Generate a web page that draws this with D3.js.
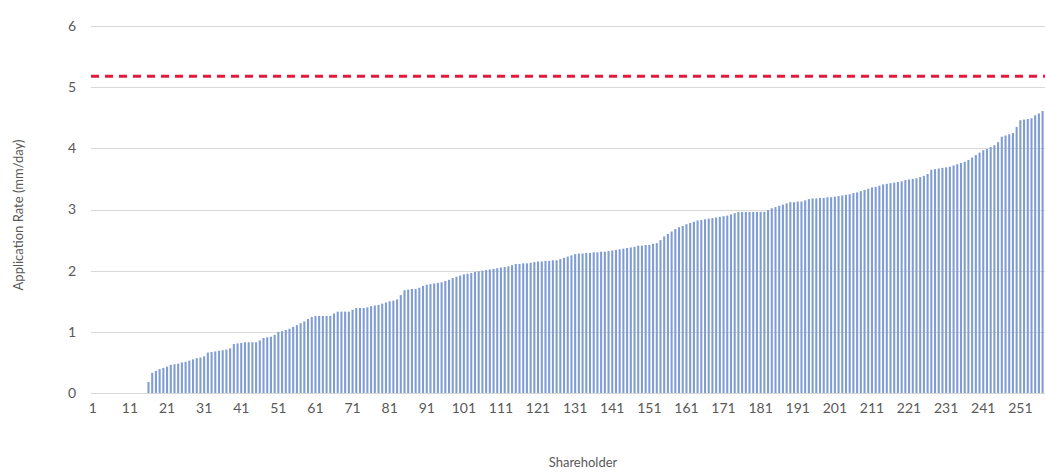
<!DOCTYPE html>
<html>
<head>
<meta charset="utf-8">
<script src="https://cdn.jsdelivr.net/npm/d3@7"></script>
<style>
  body { margin: 0; background: #fff; }
  text { font-family: Lato, "Open Sans", sans-serif; fill: #595959; }
</style>
</head>
<body>
<div id="plot"></div>
<script>
var parentId = "plot", parent = "#" + parentId;

// sorted application rate per shareholder (mm/day)
var rates = [
  0, 0, 0, 0, 0, 0, 0, 0, 0, 0,
  0, 0, 0, 0, 0, 0.18, 0.33, 0.36, 0.39, 0.41,
  0.43, 0.46, 0.47, 0.48, 0.50, 0.51, 0.53, 0.55, 0.57, 0.58,
  0.60, 0.66, 0.67, 0.68, 0.69, 0.70, 0.71, 0.73, 0.80, 0.81,
  0.82, 0.83, 0.83, 0.83, 0.83, 0.86, 0.90, 0.91, 0.92, 0.95,
  1.00, 1.01, 1.03, 1.05, 1.08, 1.11, 1.14, 1.17, 1.21, 1.24,
  1.26, 1.26, 1.26, 1.26, 1.26, 1.30, 1.33, 1.33, 1.33, 1.33,
  1.36, 1.39, 1.39, 1.39, 1.40, 1.42, 1.43, 1.44, 1.46, 1.48,
  1.50, 1.51, 1.53, 1.60, 1.68, 1.69, 1.70, 1.70, 1.72, 1.75,
  1.77, 1.78, 1.79, 1.80, 1.81, 1.83, 1.85, 1.88, 1.90, 1.92,
  1.94, 1.95, 1.96, 1.98, 1.99, 2.00, 2.01, 2.02, 2.03, 2.04,
  2.05, 2.06, 2.07, 2.09, 2.11, 2.11, 2.12, 2.12, 2.13, 2.14,
  2.15, 2.15, 2.16, 2.16, 2.17, 2.17, 2.19, 2.21, 2.23, 2.25,
  2.27, 2.28, 2.28, 2.29, 2.29, 2.30, 2.30, 2.31, 2.31, 2.32,
  2.33, 2.34, 2.35, 2.36, 2.37, 2.38, 2.39, 2.41, 2.41, 2.42,
  2.42, 2.44, 2.45, 2.50, 2.56, 2.60, 2.64, 2.68, 2.71, 2.73,
  2.76, 2.78, 2.80, 2.82, 2.83, 2.84, 2.85, 2.86, 2.87, 2.88,
  2.89, 2.90, 2.92, 2.94, 2.96, 2.96, 2.96, 2.96, 2.96, 2.96,
  2.96, 2.96, 2.99, 3.02, 3.04, 3.06, 3.08, 3.10, 3.12, 3.12,
  3.13, 3.13, 3.15, 3.17, 3.18, 3.18, 3.19, 3.19, 3.20, 3.20,
  3.21, 3.22, 3.23, 3.24, 3.25, 3.27, 3.28, 3.30, 3.32, 3.34,
  3.36, 3.37, 3.39, 3.41, 3.42, 3.43, 3.44, 3.45, 3.46, 3.48,
  3.49, 3.50, 3.51, 3.53, 3.55, 3.58, 3.65, 3.66, 3.67, 3.68,
  3.69, 3.70, 3.72, 3.74, 3.76, 3.78, 3.81, 3.85, 3.89, 3.93,
  3.97, 3.99, 4.02, 4.05, 4.10, 4.19, 4.21, 4.23, 4.25, 4.35,
  4.46, 4.47, 4.48, 4.49, 4.54, 4.57, 4.61
];
var shareholders = rates.map(function(d, i) { return i + 1; });
var xTickLabels = [1, 11, 21, 31, 41, 51, 61, 71, 81, 91, 101, 111, 121, 131,
                   141, 151, 161, 171, 181, 191, 201, 211, 221, 231, 241, 251];
var yTicks = [0, 1, 2, 3, 4, 5, 6];
var limitRate = [5.18];

var W = 1045, H = 475;
var margin = { top: 26, right: 0, bottom: 82, left: 91 };

var svg = d3.select(parent).append("svg")
    .attr("width", W)
    .attr("height", H);

var x = d3.scaleBand()
    .domain(shareholders)
    .range([margin.left, margin.left + rates.length * 3.71])
    .paddingInner(0.44)
    .paddingOuter(0.22);

var y = d3.scaleLinear()
    .domain([0, 6])
    .range([H - margin.bottom, margin.top]);

// gridlines
svg.append("g")
  .selectAll("line")
  .data(yTicks)
  .enter().append("line")
    .attr("x1", margin.left)
    .attr("x2", W)
    .attr("y1", function(d) { return Math.round(y(d)) + 0.5; })
    .attr("y2", function(d) { return Math.round(y(d)) + 0.5; })
    .style("stroke", "#d9d9d9")
    .style("stroke-width", 1);

// bars
svg.append("g")
  .selectAll("rect")
  .data(rates)
  .enter().append("rect")
    .attr("x", function(d, i) { return x(shareholders[i]); })
    .attr("width", x.bandwidth())
    .attr("y", function(d) { return y(d); })
    .attr("height", function(d) { return y(0) - y(d); })
    .style("fill", "#7f9cd3");

// limit line
svg.append("g")
  .selectAll("line")
  .data(limitRate)
  .enter().append("line")
    .attr("x1", margin.left)
    .attr("x2", W)
    .attr("y1", function(d) { return y(d); })
    .attr("y2", function(d) { return y(d); })
    .style("stroke", "#e31a3c")
    .style("stroke-width", 3)
    .style("stroke-dasharray", "8,6");

// y axis
var yAxis = svg.append("g")
    .attr("transform", "translate(" + (margin.left - 15) + ",0)")
    .call(d3.axisLeft(y).tickValues(yTicks).tickFormat(d3.format("d"))
      .tickSize(0).tickPadding(0));
yAxis.select(".domain").remove();
yAxis.selectAll("text")
    .style("font-size", "14px")
    .style("font-family", "Lato, sans-serif")
    .attr("fill", "#595959");

// x axis
var xAxis = svg.append("g")
    .attr("transform", "translate(0," + (y(0) + 10) + ")")
    .call(d3.axisBottom(x).tickValues(xTickLabels).tickSize(0).tickPadding(0));
xAxis.select(".domain").remove();
xAxis.selectAll("text")
    .style("font-size", "14px")
    .style("font-family", "Lato, sans-serif")
    .attr("fill", "#595959");

// axis titles
svg.append("text")
    .attr("x", 583)
    .attr("y", 467)
    .attr("text-anchor", "middle")
    .style("font-size", "13px")
    .text("Shareholder");

svg.append("text")
    .attr("transform", "translate(23,215) rotate(-90)")
    .attr("text-anchor", "middle")
    .style("font-size", "13px")
    .text("Application Rate (mm/day)");
</script>
</body>
</html>
